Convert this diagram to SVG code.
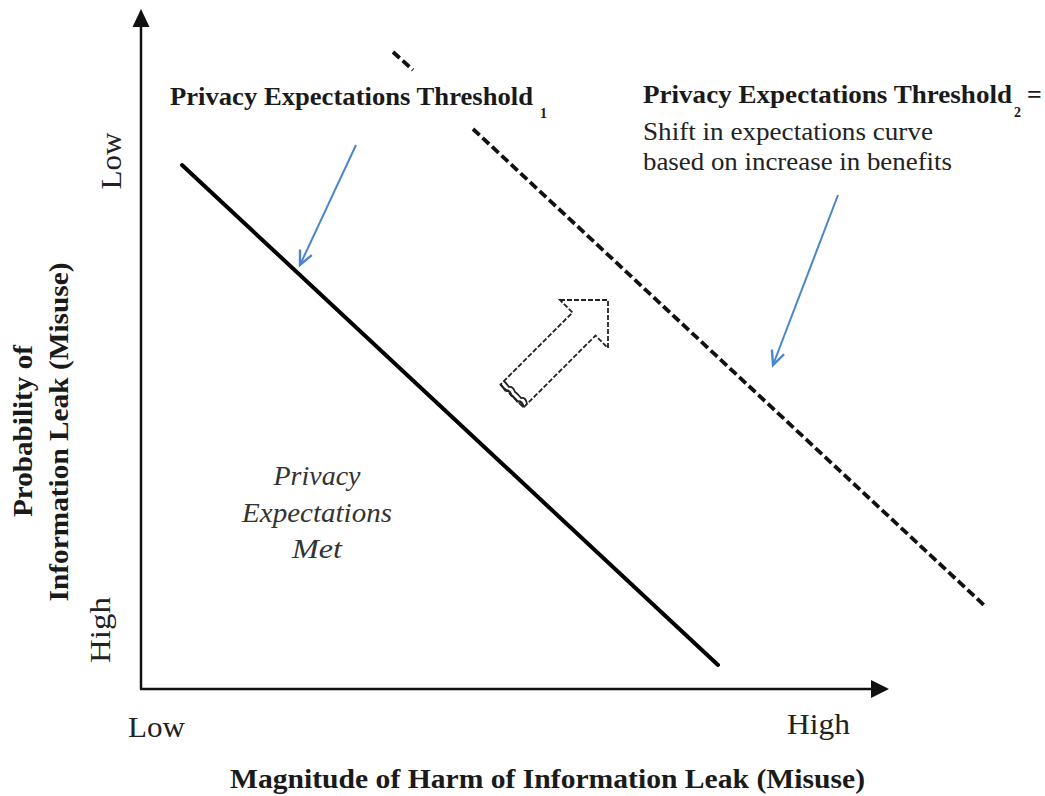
<svg xmlns="http://www.w3.org/2000/svg" width="1045" height="796" viewBox="0 0 1045 796">
<style>
.bold{font-family:"Liberation Serif","Times New Roman",serif;font-weight:bold;fill:#1a1a1a}
.reg{font-family:"Liberation Serif","Times New Roman",serif;fill:#222}
.ital{font-family:"Liberation Serif","Times New Roman",serif;font-style:italic;fill:#333}
.axis{stroke:#111;stroke-width:2.5;fill:none}
.blue{stroke:#4a86c8;stroke-width:2;fill:none}
.dash{stroke:#111;stroke-width:3.8;stroke-dasharray:9,4;fill:none}
</style>
<defs>
<marker id="blueHead" markerUnits="userSpaceOnUse" markerWidth="20" markerHeight="20" refX="15" refY="8" orient="auto">
<path d="M1,1.5 L15,8 L1,14.5" fill="none" stroke="#4a86c8" stroke-width="2.4"/>
</marker>
</defs>
<rect width="1045" height="796" fill="#fff"/>
<g id="axes">
<line class="axis" x1="141" y1="689" x2="141" y2="24"/>
<polygon points="141,9 132.5,27 149.5,27" fill="#111"/>
<line class="axis" x1="140" y1="689" x2="873" y2="689"/>
<polygon points="889,689 871,680 871,698" fill="#111"/>
</g>
<g id="threshold1">
<line x1="182" y1="165" x2="718" y2="665" stroke="#000" stroke-width="4" stroke-linecap="round"/>
</g>
<g id="threshold2">
<line class="dash" x1="393" y1="52" x2="413" y2="70"/>
<line class="dash" x1="473" y1="129" x2="986" y2="607"/>
</g>
<g id="shift-arrow">
<path d="M560,300 L608,300 L608,348 L595.5,335.5 L523.5,407.5 L500.5,384.5 L572.5,312.5 Z" fill="#fff" stroke="#222" stroke-width="1.8" stroke-dasharray="5,2"/>
<path d="M523.5,407.5 q-1,-7 -6,-6 q-4,-5 -6,-6 q-2,-6 -6,-5 q-3,-4 -5,-6" fill="none" stroke="#222" stroke-width="2.2"/>
<path d="M527,404 q-1,-7 -6,-6 q-4,-5 -6,-6 q-2,-6 -6,-5 q-3,-4 -5,-6" fill="none" stroke="#222" stroke-width="1.8"/>
</g>
<g id="connectors">
<line class="blue" x1="356" y1="145" x2="300" y2="265" marker-end="url(#blueHead)"/>
<line class="blue" x1="838" y1="195" x2="773" y2="365" marker-end="url(#blueHead)"/>
</g>
<g id="label-threshold1">
<text class="bold" x="170" y="105" font-size="26" textLength="363" lengthAdjust="spacingAndGlyphs">Privacy Expectations Threshold</text>
<text class="bold" x="540" y="118" font-size="14">1</text>
</g>
<g id="label-threshold2">
<text class="bold" x="643" y="103" font-size="26" textLength="369" lengthAdjust="spacingAndGlyphs">Privacy Expectations Threshold</text>
<text class="bold" x="1014" y="117" font-size="14">2</text>
<text class="bold" x="1027" y="103" font-size="26">=</text>
<text class="reg" x="643" y="140" font-size="26" textLength="290" lengthAdjust="spacingAndGlyphs">Shift in expectations curve</text>
<text class="reg" x="643" y="170" font-size="26" textLength="309" lengthAdjust="spacingAndGlyphs">based on increase in benefits</text>
</g>
<g id="label-met" text-anchor="middle">
<text class="ital" x="317" y="485" font-size="27" textLength="87" lengthAdjust="spacingAndGlyphs">Privacy</text>
<text class="ital" x="317" y="522" font-size="27" textLength="150" lengthAdjust="spacingAndGlyphs">Expectations</text>
<text class="ital" x="317" y="558" font-size="27" textLength="50" lengthAdjust="spacingAndGlyphs">Met</text>
</g>
<g id="x-labels">
<text class="reg" x="128" y="737" font-size="30" textLength="57" lengthAdjust="spacingAndGlyphs">Low</text>
<text class="reg" x="787" y="734" font-size="30" textLength="63" lengthAdjust="spacingAndGlyphs">High</text>
<text class="bold" x="230" y="788" font-size="27" textLength="635" lengthAdjust="spacingAndGlyphs">Magnitude of Harm of Information Leak (Misuse)</text>
</g>
<g id="y-labels" text-anchor="middle">
<text class="reg" transform="translate(121,161) rotate(-90)" font-size="30" textLength="57" lengthAdjust="spacingAndGlyphs">Low</text>
<text class="reg" transform="translate(110,630) rotate(-90)" font-size="30" textLength="66" lengthAdjust="spacingAndGlyphs">High</text>
<text class="bold" transform="translate(32,431) rotate(-90)" font-size="27" textLength="172" lengthAdjust="spacingAndGlyphs">Probability of</text>
<text class="bold" transform="translate(68,432) rotate(-90)" font-size="27" textLength="339" lengthAdjust="spacingAndGlyphs">Information Leak (Misuse)</text>
</g>
</svg>
